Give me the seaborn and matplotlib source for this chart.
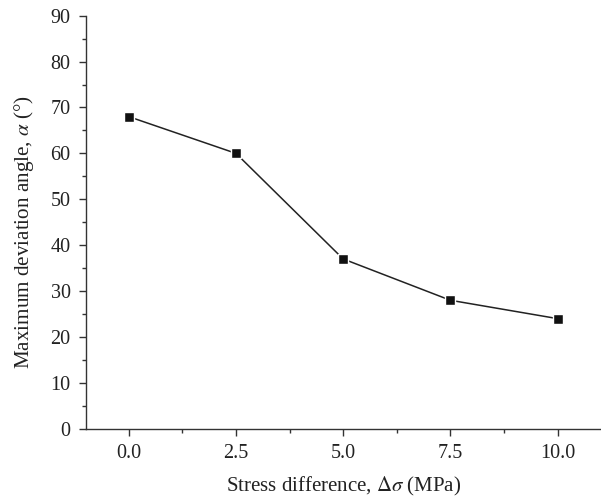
import matplotlib
matplotlib.use("Agg")
import matplotlib.pyplot as plt
import seaborn as sns
import pandas as pd
from matplotlib.ticker import MultipleLocator

stress_diff = [0.0, 2.5, 5.0, 7.5, 10.0]
max_angle = [68, 60, 37, 28, 24]
x_ticks = [0.0, 2.5, 5.0, 7.5, 10.0]
x_tick_labels = ["0.0", "2.5", "5.0", "7.5", "10.0"]
y_ticks = [0, 10, 20, 30, 40, 50, 60, 70, 80, 90]

sns.set_style("ticks")
plt.rcParams["font.family"] = ["Liberation Serif", "DejaVu Serif"]
plt.rcParams["mathtext.fontset"] = "stix"

df = pd.DataFrame({"x": stress_diff, "y": max_angle})

fig = plt.figure(figsize=(6.01, 4.98), dpi=100)
ax = fig.add_axes([0.143, 0.139, 0.856, 0.8295])

sns.lineplot(data=df, x="x", y="y", ax=ax, color="#222222", linewidth=1.1,
             marker="s", markersize=6.5, markerfacecolor="#111111",
             markeredgecolor="white", markeredgewidth=1.0)

ax.set_xlim(-1, 11)
ax.set_ylim(0, 90)
ax.set_xticks(x_ticks)
ax.set_xticklabels(x_tick_labels)
ax.set_yticks(y_ticks)
ax.xaxis.set_minor_locator(MultipleLocator(1.25))
ax.yaxis.set_minor_locator(MultipleLocator(5))

for s in ["top", "right"]:
    ax.spines[s].set_visible(False)
for s in ["left", "bottom"]:
    ax.spines[s].set_color("#333333")
    ax.spines[s].set_linewidth(1.0)

ax.tick_params(axis="both", which="major", direction="out", length=5, width=1.0,
               color="#333333", labelsize=14.5, labelcolor="#222222", pad=6)
ax.tick_params(axis="both", which="minor", direction="out", length=3, width=1.0,
               color="#333333")

ax.set_xlabel(r"Stress difference, $\Delta\mathit{\sigma}$ (MPa)", fontsize=15,
              color="#222222")
ax.set_ylabel(r"Maximum deviation angle, $\mathit{\alpha}$ (°)", fontsize=15.2,
              color="#222222")
ax.xaxis.set_label_coords(0.5, -0.112)
ax.yaxis.set_label_coords(-0.097, 0.477)

fig.savefig("out.png", dpi=100)
